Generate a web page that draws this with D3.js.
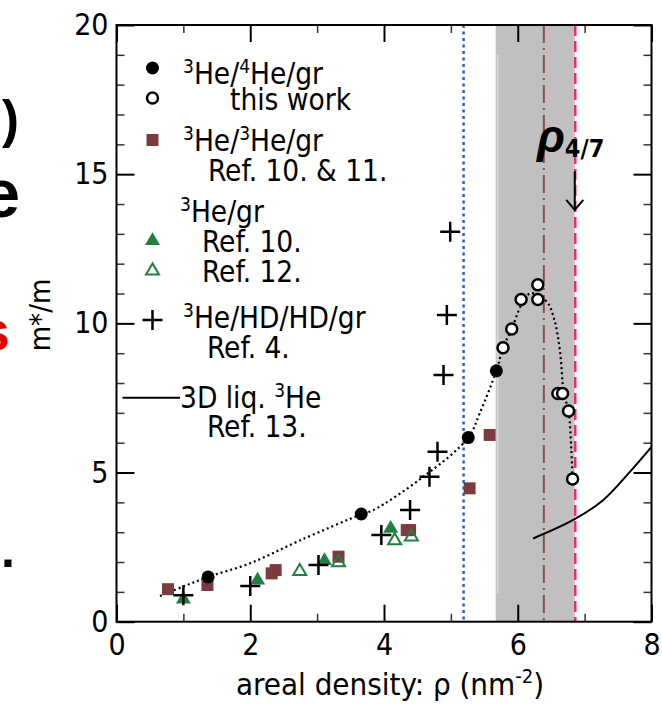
<!DOCTYPE html>
<html>
<head>
<meta charset="utf-8">
<script src="https://cdn.jsdelivr.net/npm/d3@7"></script>
<style>
  body { margin: 0; background: #fff; }
  svg { display: block; font-family: 'DejaVu Sans Condensed', 'DejaVu Sans', sans-serif; font-stretch: condensed; }
</style>
</head>
<body>
<div id="chart"></div>
<script>
// filled circles: 3He/4He/gr (earlier)
const fillCircX = [1.37, 3.66, 5.26, 5.68];
const fillCircY = [1.50, 3.61, 6.17, 8.41];
// open circles: this work
const openCircX = [5.78, 5.91, 6.05, 6.30, 6.30, 6.60, 6.67, 6.76, 6.82];
const openCircY = [9.18, 9.81, 10.80, 11.29, 10.80, 7.65, 7.65, 7.06, 4.78];
// squares: 3He/3He/gr  Ref. 10 & 11
const squareX = [0.77, 1.36, 2.32, 2.38, 3.32, 4.34, 4.39, 5.28, 5.58];
const squareY = [1.09, 1.23, 1.62, 1.73, 2.18, 3.07, 3.07, 4.47, 6.26];
// filled triangles: 3He/gr Ref. 10
const triFillX = [1.0, 2.11, 3.11, 4.10];
const triFillY = [0.78, 1.42, 2.07, 3.15];
// open triangles: 3He/gr Ref. 12
const triOpenX = [2.74, 3.32, 4.16, 4.41];
const triOpenY = [1.71, 2.01, 2.74, 2.87];
// crosses: 3He/HD/HD/gr Ref. 4
const plusX = [1.0, 2.0, 3.02, 3.96, 4.39, 4.68, 4.80, 4.89, 4.94, 4.99];
const plusY = [0.89, 1.20, 1.90, 2.91, 3.74, 4.86, 5.70, 8.27, 10.28, 13.07];
// dotted guide through the 3He/4He/gr points
const guideX = [0.65, 1.0, 1.37, 2.0, 2.74, 3.66, 3.84, 4.59, 5.26, 5.43, 5.68, 5.78, 5.91, 6.05, 6.18, 6.30, 6.45, 6.55, 6.63, 6.69, 6.76, 6.80, 6.82];
const guideY = [0.86, 1.18, 1.50, 1.96, 2.72, 3.60, 3.74, 4.86, 6.17, 6.98, 8.41, 9.18, 9.82, 10.60, 11.0, 10.95, 10.68, 10.10, 9.10, 7.65, 7.06, 5.80, 4.78];
// 3D liquid 3He, Ref. 13
const liqX = [6.23, 6.83, 7.28, 7.68, 8.0];
const liqY = [2.79, 3.41, 4.08, 5.03, 5.86];
// vertical markers
const blueLineX = 5.19;
const bandX = [5.67, 6.85];
const brownLineX = 6.39;
const pinkLineX = 6.86;
const rho47Y = [15.1, 13.8];   // arrow from / to

const xTicks = [0, 2, 4, 6, 8];
const yTicks = [0, 5, 10, 15, 20];

const W = 662, H = 707;
const pLeft = 116.5, pRight = 651.5, pTop = 25, pBottom = 621.7;

const zip = (a, b) => a.map((v, i) => [v, b[i]]);

const svg = d3.select('#chart').append('svg')
  .attr('width', W).attr('height', H);

const x = d3.scaleLinear().domain([0, 8]).range([pLeft, pRight]);
const y = d3.scaleLinear().domain([0, 20]).range([pBottom, pTop]);

// left-edge fragments of the neighbouring panel
const frag = svg.append('g').attr('font-family', 'Liberation Sans, Arial, sans-serif').attr('font-weight', 'bold').attr('text-anchor', 'end');
frag.append('text').attr('x', 19).attr('y', 137).attr('font-size', 51).text(')');
frag.append('text').attr('x', 20).attr('y', 217).attr('font-size', 68).text('e');
frag.append('text').attr('x', 10).attr('y', 350).attr('font-size', 56).attr('fill', '#e00000').text('s');
frag.append('text').attr('x', 15).attr('y', 567).attr('font-size', 50).text('.');

// grey band
svg.append('rect')
  .attr('x', x(bandX[0])).attr('y', pTop)
  .attr('width', x(bandX[1]) - x(bandX[0])).attr('height', pBottom - pTop)
  .attr('fill', '#c0c0c0');
svg.append('line')
  .attr('x1', x(bandX[0]) + 2).attr('x2', x(bandX[0]) + 2)
  .attr('y1', 55).attr('y2', 593)
  .attr('stroke', '#d6d6d6').attr('stroke-width', 2);

// vertical reference lines
const vline = (v, color, dash, w) => svg.append('line')
  .attr('x1', x(v)).attr('x2', x(v)).attr('y1', pTop).attr('y2', pBottom)
  .attr('stroke', color).attr('stroke-width', w).attr('stroke-dasharray', dash);
vline(blueLineX, '#2f5fc0', '3,3.5', 2.5);
vline(brownLineX, '#8c4a50', '18,5,2,5', 2);
vline(pinkLineX, '#f0287a', '11,5', 2.5);

// curves
const line = d3.line().x(d => x(d[0])).y(d => y(d[1])).curve(d3.curveCatmullRom);
svg.append('path').datum(zip(guideX, guideY)).attr('d', line)
  .attr('fill', 'none').attr('stroke', '#000').attr('stroke-width', 2.2).attr('stroke-dasharray', '2,3');
svg.append('path').datum(zip(liqX, liqY)).attr('d', line)
  .attr('fill', 'none').attr('stroke', '#000').attr('stroke-width', 2);

// marker drawers
const brown = '#7c3c3f', green = '#1f8040';
function drawFillCirc(g, px, py) { g.append('circle').attr('cx', px).attr('cy', py).attr('r', 6.5).attr('fill', '#000'); }
function drawOpenCirc(g, px, py) { g.append('circle').attr('cx', px).attr('cy', py).attr('r', 5.5).attr('fill', '#fff').attr('stroke', '#000').attr('stroke-width', 2.5); }
function drawSquare(g, px, py) { g.append('rect').attr('x', px - 6).attr('y', py - 6).attr('width', 12).attr('height', 12).attr('fill', brown); }
function triPath(px, py, w) { const h = w * 0.85; return `M${px},${py - h * 0.6}L${px + w / 2},${py + h * 0.4}L${px - w / 2},${py + h * 0.4}Z`; }
function drawTriFill(g, px, py) { g.append('path').attr('d', triPath(px, py, 15)).attr('fill', green); }
function drawTriOpen(g, px, py) { g.append('path').attr('d', triPath(px, py, 13)).attr('fill', 'none').attr('stroke', green).attr('stroke-width', 2); }
function drawPlus(g, px, py) { g.append('path').attr('d', `M${px - 10},${py}H${px + 10}M${px},${py - 10}V${py + 10}`).attr('stroke', '#000').attr('stroke-width', 2.5); }

const marks = svg.append('g');
zip(squareX, squareY).forEach(d => drawSquare(marks, x(d[0]), y(d[1])));
zip(triOpenX, triOpenY).forEach(d => drawTriOpen(marks, x(d[0]), y(d[1])));
zip(triFillX, triFillY).forEach(d => drawTriFill(marks, x(d[0]), y(d[1])));
zip(plusX, plusY).forEach(d => drawPlus(marks, x(d[0]), y(d[1])));
zip(fillCircX, fillCircY).forEach(d => drawFillCirc(marks, x(d[0]), y(d[1])));
zip(openCircX, openCircY).forEach(d => drawOpenCirc(marks, x(d[0]), y(d[1])));

// axes with inward ticks
const fs = 30;
function styleAxis(g) { g.select('.domain').remove(); g.selectAll('.tick line').attr('stroke', '#000').attr('stroke-width', 2); g.selectAll('text').attr('font-size', fs).attr('fill', '#000'); g.attr('font-family', null); }
function styleMinor(g) { g.select('.domain').remove(); g.selectAll('.tick line').attr('stroke', '#333').attr('stroke-width', 1.5); g.selectAll('text').remove(); }
const xMinor = [1, 3, 5, 7];
const yMinor = d3.range(1, 20).filter(v => v % 5 !== 0);

svg.append('g').attr('transform', `translate(0,${pBottom})`).call(d3.axisBottom(x).tickValues(xTicks).tickSize(-17).tickPadding(12)).call(styleAxis);
svg.append('g').attr('transform', `translate(0,${pBottom})`).call(d3.axisBottom(x).tickValues(xMinor).tickSize(-8)).call(styleMinor);
svg.append('g').attr('transform', `translate(0,${pTop})`).call(d3.axisTop(x).tickValues(xTicks).tickSize(-17).tickFormat('')).call(styleAxis);
svg.append('g').attr('transform', `translate(0,${pTop})`).call(d3.axisTop(x).tickValues(xMinor).tickSize(-8)).call(styleMinor);
svg.append('g').attr('transform', `translate(${pLeft},0)`).call(d3.axisLeft(y).tickValues(yTicks).tickSize(-18).tickPadding(8)).call(styleAxis);
svg.append('g').attr('transform', `translate(${pLeft},0)`).call(d3.axisLeft(y).tickValues(yMinor).tickSize(-8)).call(styleMinor);
svg.append('g').attr('transform', `translate(${pRight},0)`).call(d3.axisRight(y).tickValues(yTicks).tickSize(-18).tickFormat('')).call(styleAxis);
svg.append('g').attr('transform', `translate(${pRight},0)`).call(d3.axisRight(y).tickValues(yMinor).tickSize(-8)).call(styleMinor);

svg.append('rect').attr('x', pLeft).attr('y', pTop).attr('width', pRight - pLeft).attr('height', pBottom - pTop)
  .attr('fill', 'none').attr('stroke', '#000').attr('stroke-width', 2);

// axis titles
const xt = svg.append('text').attr('x', 390).attr('y', 695).attr('text-anchor', 'middle').attr('font-size', 31);
xt.append('tspan').text('areal density: ρ (nm');
xt.append('tspan').attr('font-size', 20).attr('dy', -12).text('-2');
xt.append('tspan').attr('dy', 12).text(')');
svg.append('text').attr('transform', 'translate(50,315) rotate(-90)').attr('text-anchor', 'middle').attr('font-size', 29).text('m*/m');

// rho_4/7 annotation
const rt = svg.append('text').attr('x', 537).attr('y', 152).attr('font-family', 'Liberation Sans, Arial, sans-serif');
rt.append('tspan').attr('font-size', 46).attr('font-style', 'italic').attr('font-weight', 'bold').text('ρ');
rt.append('tspan').attr('font-size', 25).attr('font-weight', 'bold').attr('dy', 5).attr('font-family', 'DejaVu Sans Condensed, DejaVu Sans, sans-serif').text('4/7');
const ax = x(pinkLineX) - 0.5;
svg.append('path').attr('d', `M${ax},${y(rho47Y[0])}V${y(rho47Y[1])}M${ax - 8.5},${y(rho47Y[1]) - 10}L${ax},${y(rho47Y[1])}L${ax + 8.5},${y(rho47Y[1]) - 10}`)
  .attr('fill', 'none').attr('stroke', '#000').attr('stroke-width', 2);

// legend
const lg = svg.append('g').attr('font-size', 29.5);
function supText(px, py, parts) {
  const t = lg.append('text').attr('x', px).attr('y', py);
  let raised = false;
  parts.forEach(p => {
    if (p[0] === '^') {
      t.append('tspan').attr('font-size', 19).attr('dy', raised ? 0 : -11).text(p.slice(1));
      raised = true;
    } else {
      t.append('tspan').attr('dy', raised ? 11 : 0).text(p);
      raised = false;
    }
  });
  return t;
}
const mx = 152.5;
drawFillCirc(lg, mx, 68);
supText(183, 84, ['^3', 'He/', '^4', 'He/gr']);
drawOpenCirc(lg, mx, 98);
lg.append('text').attr('x', 230).attr('y', 110).text('this work');
drawSquare(lg, mx, 140);
supText(183, 151, ['^3', 'He/', '^3', 'He/gr']);
lg.append('text').attr('x', 208).attr('y', 181).text('Ref. 10. & 11.');
supText(180, 222, ['^3', 'He/gr']);
drawTriFill(lg, mx, 240);
lg.append('text').attr('x', 202).attr('y', 252).text('Ref. 10.');
drawTriOpen(lg, mx, 270);
lg.append('text').attr('x', 202).attr('y', 282).text('Ref. 12.');
drawPlus(lg, mx, 320);
supText(183, 328, ['^3', 'He/HD/HD/gr']);
lg.append('text').attr('x', 207).attr('y', 358).text('Ref. 4.');
lg.append('line').attr('x1', 122.5).attr('x2', 180).attr('y1', 397.7).attr('y2', 397.7).attr('stroke', '#000').attr('stroke-width', 2);
supText(180, 408, ['3D liq. ', '^3', 'He']);
lg.append('text').attr('x', 207).attr('y', 437).text('Ref. 13.');
</script>
</body>
</html>
